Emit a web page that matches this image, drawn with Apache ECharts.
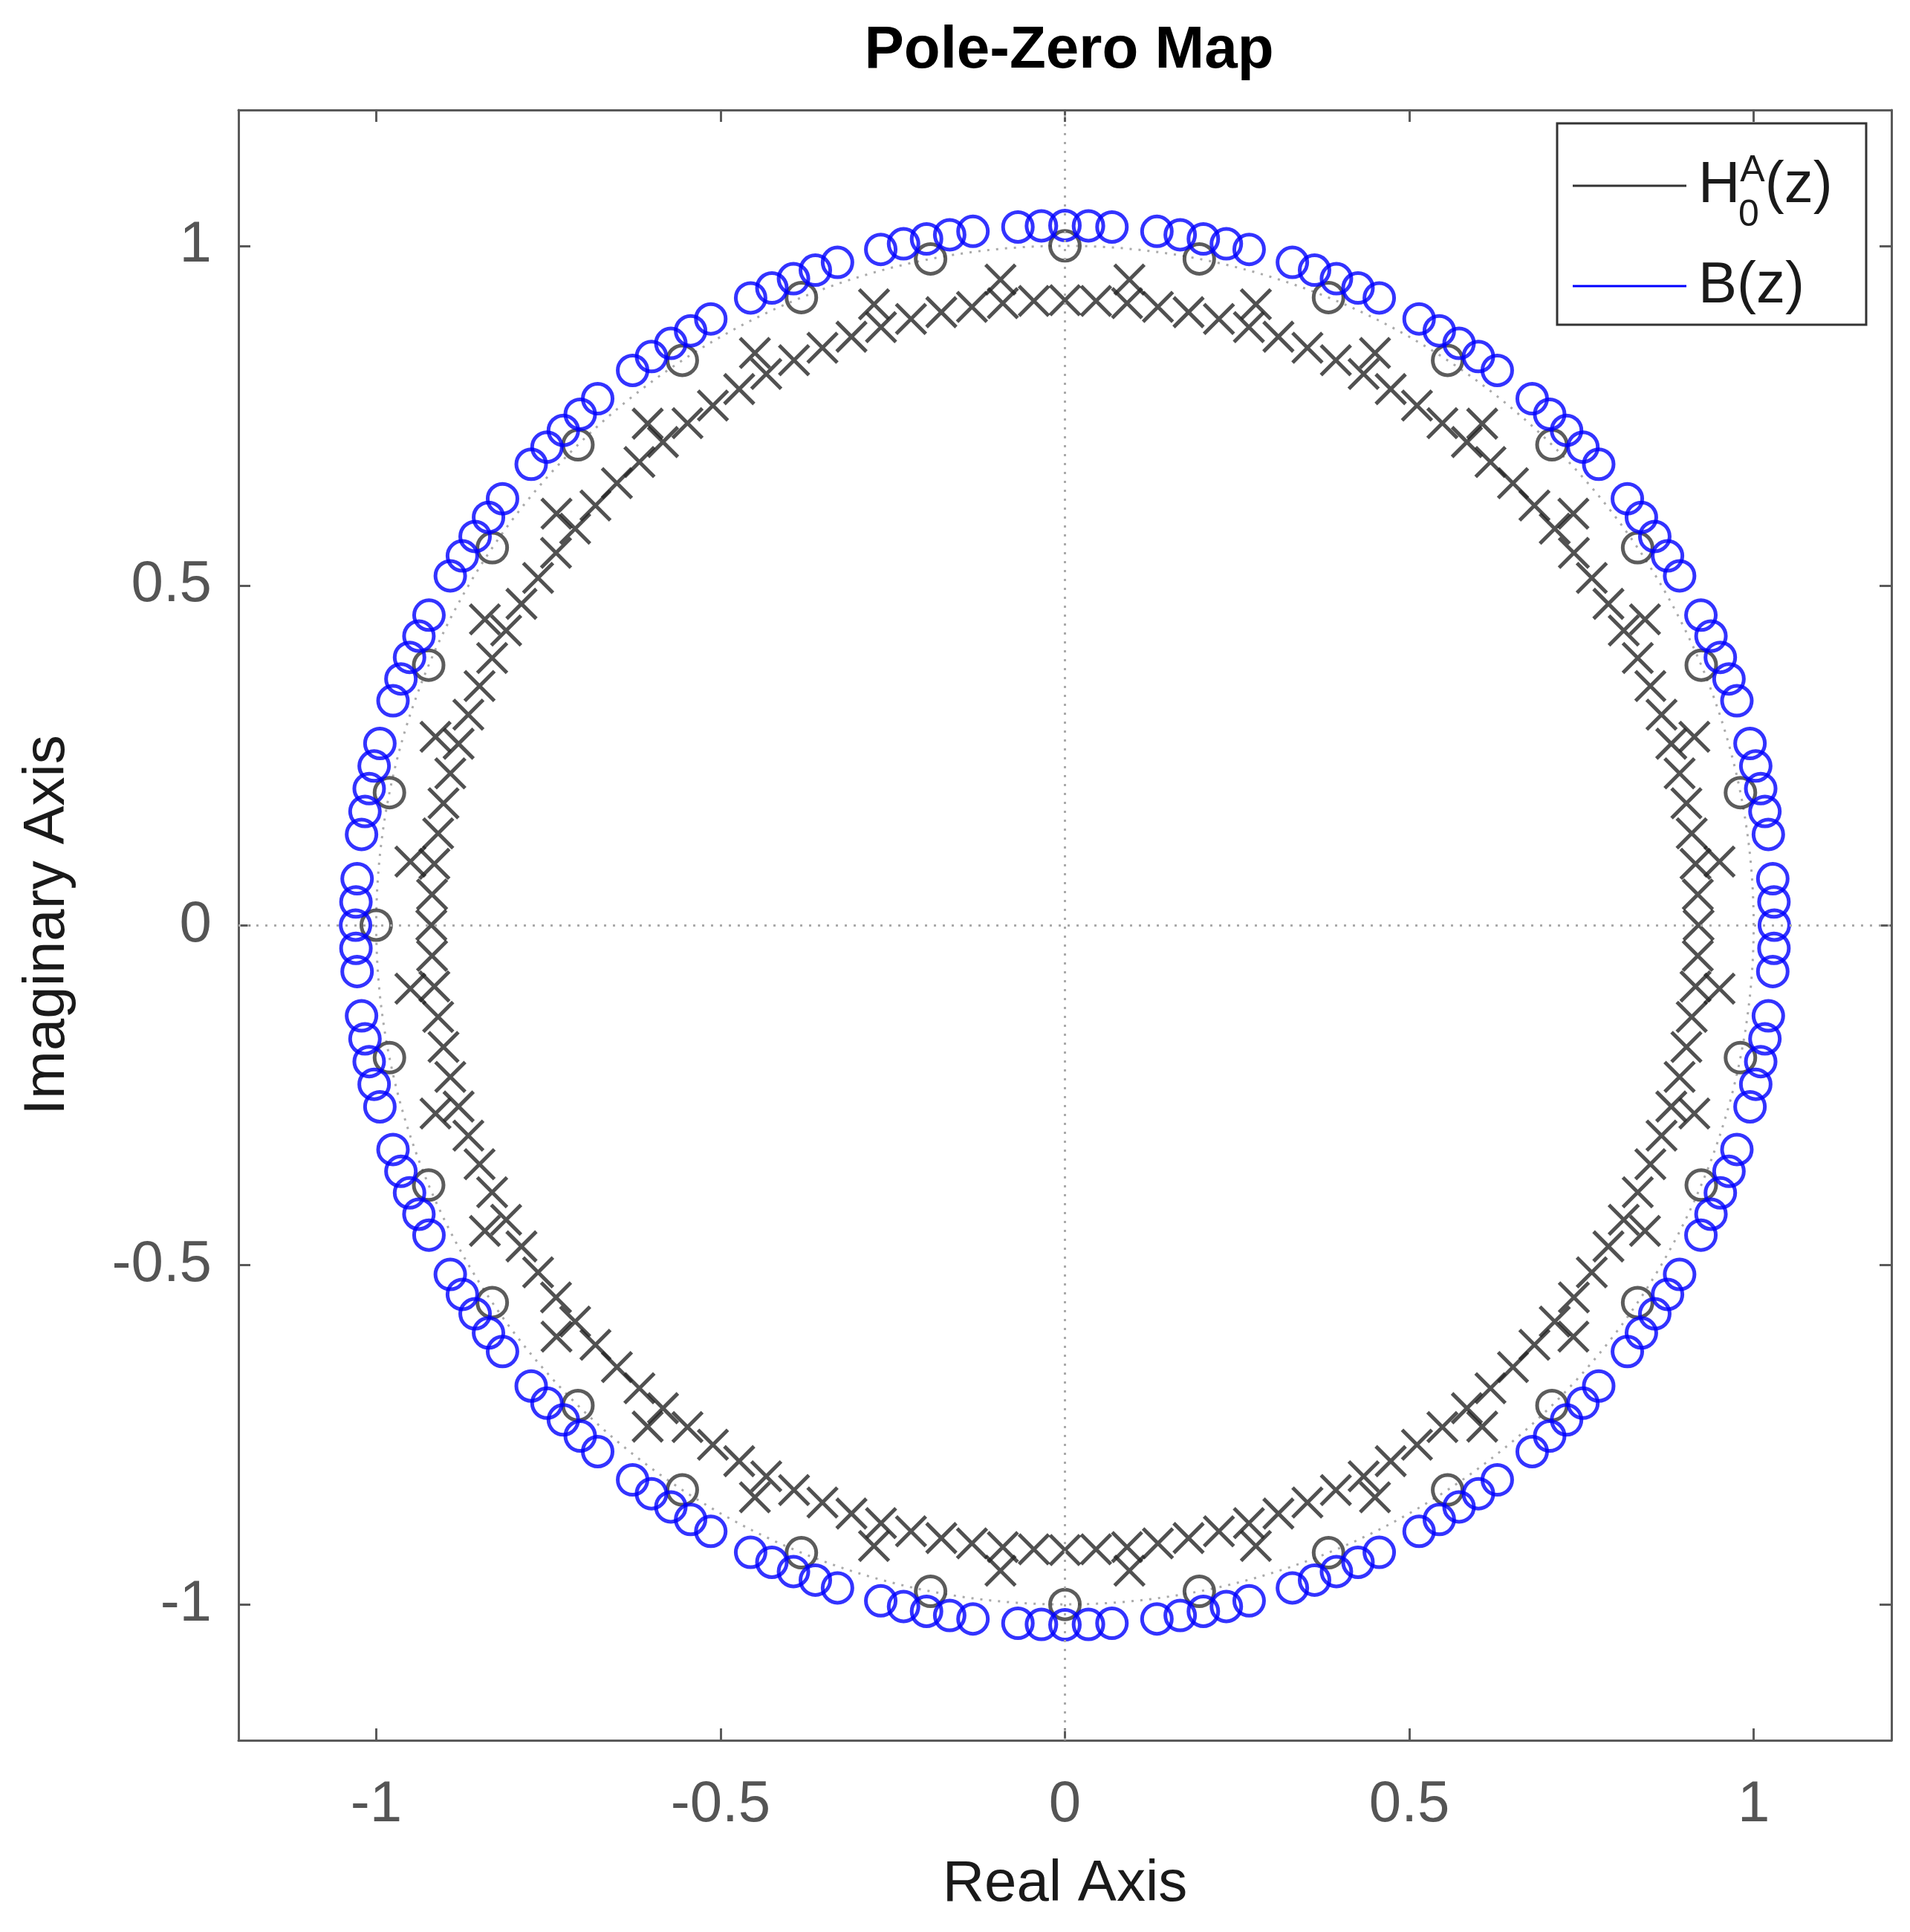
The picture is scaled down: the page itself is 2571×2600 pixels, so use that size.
<!DOCTYPE html>
<html><head><meta charset="utf-8">
<script src="https://cdn.jsdelivr.net/npm/echarts@6/dist/echarts.min.js"></script>
<style>html,body{margin:0;padding:0;background:#fff}#c{width:2571px;height:2600px}</style>
</head><body><div id="c"></div>
<script>
// ---- data (angles in degrees, radii in units) ----
const xTicks = [-1, -0.5, 0, 0.5, 1];
const yTicks = [-1, -0.5, 0, 0.5, 1];
// zeros of H0A(z): on the unit circle, every 11.25°, none at 0°
const hZeroAngles = [11.25,22.5,33.75,45,56.25,67.5,78.75,90,101.25,112.5,123.75,135,146.25,157.5,168.75,180,
  191.25,202.5,213.75,225,236.25,247.5,258.75,270,281.25,292.5,303.75,315,326.25,337.5,348.75];
const hZeroRadius = 1.0;
// zeros of B(z): groups of five circles around each sector centre
const bGroupCenters = [0,11.25,22.5,33.75,45,56.25,67.5,78.75,90,101.25,112.5,123.75,135,146.25,157.5,168.75,
  180,191.25,202.5,213.75,225,236.25,247.5,258.75,270,281.25,292.5,303.75,315,326.25,337.5,348.75];
const bGroupOffsets = [-3.8, -1.9, 0, 1.9, 3.8];
const bZeroRadius = 1.03;
// poles (x): four per sector on an inner ring plus one slightly outside
const poleOffsets = [0, 2.8125, 5.625, 8.4375];
const poleRadius = 0.92;
const outerPoleOffset = 5.625;
const outerPoleRadius = 0.955;

const rad = d => d * Math.PI / 180;
const pt = (r, a) => [r * Math.cos(rad(a)), r * Math.sin(rad(a))];

const hZeros = hZeroAngles.map(a => pt(hZeroRadius, a));
const bZeros = [];
bGroupCenters.forEach(c => bGroupOffsets.forEach(o => bZeros.push(pt(bZeroRadius, c + o))));
const poles = [];
bGroupCenters.forEach(c => {
  poleOffsets.forEach(o => poles.push(pt(poleRadius, c + o)));
  poles.push(pt(outerPoleRadius, c + outerPoleOffset));
});
const unitCircle = [];
for (let a = 0; a <= 360; a += 1) unitCircle.push(pt(1, a));

const chart = echarts.init(document.getElementById('c'));
const F = 'Liberation Sans, Arial, Helvetica, sans-serif';
const axisCol = '#5a5a5a';
const baseAxis = {
  type: 'value', min: -1.2, max: 1.2, interval: 0.5,
  axisLine: { show: true, onZero: false, lineStyle: { color: axisCol, width: 3 } },
  axisTick: { show: true, inside: true, length: 16, lineStyle: { color: axisCol, width: 3 },
    customValues: xTicks },
  splitLine: { show: false },
};
const X = 'path://M0,0L10,10M10,0L0,10';
chart.setOption({
  animation: false,
  title: { text: 'Pole-Zero Map', left: 1434, top: 24, textAlign: 'center',
    textStyle: { fontFamily: F, fontSize: 80, fontWeight: 'bold', color: '#000' } },
  grid: { left: 321, right: 25, top: 148, bottom: 258 },
  xAxis: [
    Object.assign({}, baseAxis, {
      name: 'Real Axis', nameLocation: 'middle', nameGap: 155,
      nameTextStyle: { fontFamily: F, fontSize: 78, color: '#1a1a1a' },
      axisLabel: { fontFamily: F, fontSize: 78, color: '#555', margin: 48, customValues: xTicks }
    }),
    Object.assign({}, baseAxis, { position: 'top', axisLabel: { show: false } })
  ],
  yAxis: [
    Object.assign({}, baseAxis, {
      axisTick: Object.assign({}, baseAxis.axisTick, { customValues: yTicks }),
      name: 'Imaginary Axis', nameLocation: 'middle', nameGap: 218,
      nameTextStyle: { fontFamily: F, fontSize: 78, color: '#1a1a1a' },
      axisLabel: { fontFamily: F, fontSize: 78, color: '#555', margin: 36, customValues: yTicks }
    }),
    Object.assign({}, baseAxis, { position: 'right',
      axisTick: Object.assign({}, baseAxis.axisTick, { customValues: yTicks }),
      axisLabel: { show: false } })
  ],
  series: [
    { type: 'line', data: unitCircle, showSymbol: false, silent: true, z: 1,
      lineStyle: { color: '#aaa', width: 3, type: [3, 9] },
      markLine: { silent: true, symbol: 'none', label: { show: false },
        lineStyle: { color: '#aaa', width: 3, type: [3, 9] },
        data: [{ xAxis: 0 }, { yAxis: 0 }] } },
    { type: 'scatter', data: poles, symbol: X, symbolSize: 40, z: 3,
      itemStyle: { color: 'none', borderColor: '#262626', borderWidth: 5 } },
    { type: 'scatter', data: hZeros, symbol: 'circle', symbolSize: 40, z: 3,
      itemStyle: { color: 'none', borderColor: '#333', borderWidth: 5 } },
    { type: 'scatter', data: bZeros, symbol: 'circle', symbolSize: 40, z: 4,
      itemStyle: { color: 'none', borderColor: '#0000ff', borderWidth: 5 } }
  ],
  graphic: [
    { type: 'rect', shape: { x: 2096, y: 166, width: 416, height: 271 },
      style: { fill: '#fff', stroke: '#333', lineWidth: 3 }, z: 10 },
    { type: 'line', shape: { x1: 2117, y1: 250, x2: 2270, y2: 250 },
      style: { stroke: '#333', lineWidth: 3 }, z: 11 },
    { type: 'line', shape: { x1: 2117, y1: 385, x2: 2270, y2: 385 },
      style: { stroke: '#0000ff', lineWidth: 3 }, z: 11 },
    { type: 'text', x: 2286, y: 250, z: 11,
      style: { text: '{m|H}{s|A}{m|(z)}', verticalAlign: 'middle', fill: '#1a1a1a',
        rich: { m: { fontFamily: F, fontSize: 78, verticalAlign: 'middle' },
                s: { fontFamily: F, fontSize: 50, verticalAlign: 'top', padding: [0, 0, 40, 0] } } } },
    { type: 'text', x: 2340, y: 290, z: 11,
      style: { text: '0', fontFamily: F, fontSize: 50, fill: '#1a1a1a', verticalAlign: 'middle' } },
    { type: 'text', x: 2286, y: 385, z: 11,
      style: { text: 'B(z)', fontFamily: F, fontSize: 78, fill: '#1a1a1a', verticalAlign: 'middle' } }
  ]
});
</script></body></html>
